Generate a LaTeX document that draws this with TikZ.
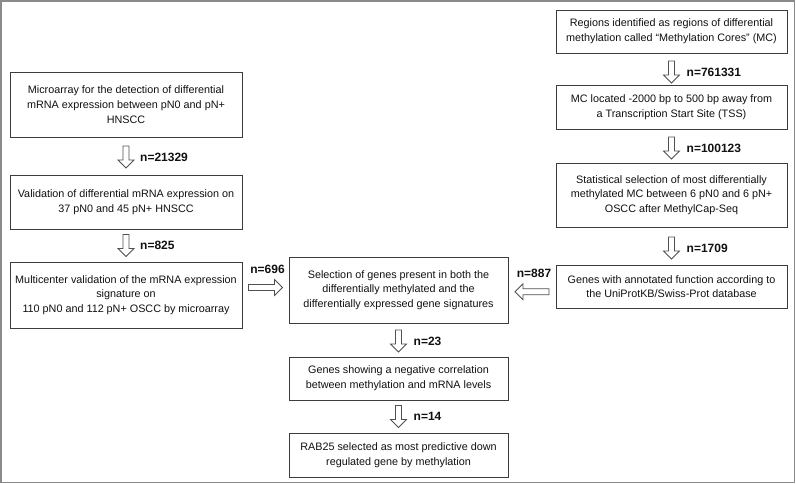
\documentclass[tikz,border=0pt]{standalone}
\usepackage{fontspec}
\setmainfont{Liberation Sans}
\usetikzlibrary{calc}
\definecolor{framegray}{HTML}{8A8A8A}
\definecolor{boxline}{HTML}{3C3C3C}
\definecolor{txt}{HTML}{111111}
\definecolor{arrline}{HTML}{505050}
\tikzset{
  stepbox/.style={draw=boxline, line width=0.8pt, fill=white, rectangle, align=center,
    inner sep=0pt, text=txt, font=\fontsize{10.8}{14.7}\selectfont},
  arrstyle/.style={draw=arrline, line width=0.8pt, fill=white, line join=miter},
  pics/dnarrow/.style={code={\draw[arrstyle] (-3,-11) -- (3,-11) -- (3,3) -- (8,3) -- (0,11) -- (-8,3) -- (-3,3) -- cycle;}},
  pics/rtarrow/.style={code={\draw[arrstyle] (-17,-3) -- (9,-3) -- (9,-8) -- (17,0) -- (9,8) -- (9,3) -- (-17,3) -- cycle;}},
  pics/lfarrow/.style={code={\draw[arrstyle] (17,-3) -- (-9,-3) -- (-9,-8) -- (-17,0) -- (-9,8) -- (-9,3) -- (17,3) -- cycle;}},
  nlabel/.style={inner sep=0pt, text=txt, font=\fontsize{12}{14}\selectfont\bfseries}
}
\begin{document}
\begin{tikzpicture}[x=1pt,y=-1pt]
\useasboundingbox (0,0) rectangle (796,484);
\draw[framegray, line width=1.6pt] (0.8,0.8) rectangle (794.6,482.6);

% left column
\node[stepbox, minimum width=232pt, minimum height=65pt] (L1) at (126,104.5)
  {Microarray for the detection of differential\\mRNA expression between pN0 and pN+\\HNSCC};
\node[stepbox, minimum width=232pt, minimum height=54pt] (L2) at (126,202)
  {Validation of differential mRNA expression on\\37 pN0 and 45 pN+ HNSCC};
\node[stepbox, minimum width=232pt, minimum height=66pt] (L3) at (126,295)
  {Multicenter validation of the mRNA expression\\signature on\\110 pN0 and 112 pN+ OSCC by microarray};

% middle column
\node[stepbox, minimum width=219pt, minimum height=66pt] (M1) at (398.5,290)
  {Selection of genes present in both the\\differentially methylated and the\\differentially expressed gene signatures};
\node[stepbox, minimum width=219pt, minimum height=43pt] (M2) at (398.5,378.5)
  {Genes showing a negative correlation\\between methylation and mRNA levels};
\node[stepbox, minimum width=219pt, minimum height=44pt] (M3) at (398.5,455)
  {RAB25 selected as most predictive down\\regulated gene by methylation};

% right column
\node[stepbox, minimum width=231pt, minimum height=43pt] (R1) at (671.5,31.5)
  {Regions identified as regions of differential\\methylation called “Methylation Cores” (MC)};
\node[stepbox, minimum width=231pt, minimum height=44pt] (R2) at (671.5,107)
  {MC located -2000 bp to 500 bp away from\\a Transcription Start Site (TSS)};
\node[stepbox, minimum width=231pt, minimum height=64pt] (R3) at (671.5,195)
  {Statistical selection of most differentially\\methylated MC between 6 pN0 and 6 pN+\\OSCC after MethylCap-Seq};
\node[stepbox, minimum width=231pt, minimum height=43pt] (R4) at (671.5,286.5)
  {Genes with annotated function according to\\the UniProtKB/Swiss-Prot database};

% arrow positions
\coordinate (a1) at ($(L1.south)!0.5!(L2.north)+(0,1)$);
\coordinate (a2) at ($(L2.south)!0.5!(L3.north)$);
\coordinate (a3) at ($(R1.south)!0.5!(R2.north)+(0,3)$);
\coordinate (a4) at ($(R2.south)!0.5!(R3.north)+(0,2)$);
\coordinate (a5) at ($(R3.south)!0.5!(R4.north)+(0,2)$);
\coordinate (a6) at ($(M1.south)!0.5!(M2.north)+(0,1)$);
\coordinate (a7) at ($(M2.south)!0.5!(M3.north)$);
\coordinate (h1) at ($(L3.east)!0.5!(M1.west)+(0,-5)$);
\coordinate (h2) at ($(M1.east)!0.5!(R4.west)+(0,3.5)$);

\pic at (a1) {dnarrow};
\pic at (a2) {dnarrow};
\pic at (a3) {dnarrow};
\pic at (a4) {dnarrow};
\pic at (a5) {dnarrow};
\pic at (a6) {dnarrow};
\pic at (a7) {dnarrow};
\pic at (h1) {rtarrow};
\pic at (h2) {lfarrow};

\node[nlabel, anchor=west] (n1) at ($(a1)+(14,0)$) {n=21329};
\node[nlabel, anchor=west] (n2) at ($(a2)+(14,0)$) {n=825};
\node[nlabel, anchor=west] (n3) at ($(a3)+(15,0)$) {n=761331};
\node[nlabel, anchor=west] (n4) at ($(a4)+(15,0)$) {n=100123};
\node[nlabel, anchor=west] (n5) at ($(a5)+(15,0)$) {n=1709};
\node[nlabel, anchor=west] (n6) at ($(a6)+(15,0)$) {n=23};
\node[nlabel, anchor=west] (n7) at ($(a7)+(15,0)$) {n=14};
\node[nlabel] (n8) at ($(h1)+(2,-18.5)$) {n=696};
\node[nlabel] (n9) at ($(h2)+(2,-18)$) {n=887};
\end{tikzpicture}
\end{document}
